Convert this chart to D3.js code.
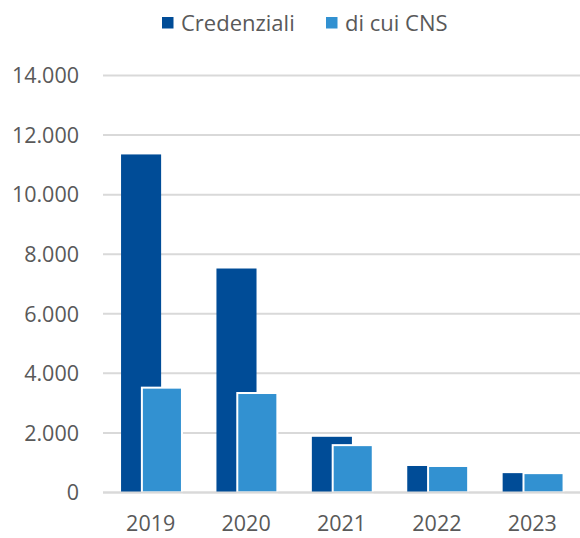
<!DOCTYPE html>
<html>
<head>
<meta charset="utf-8">
<script src="https://cdn.jsdelivr.net/npm/d3@7"></script>
<style>
  html, body { margin: 0; padding: 0; background: #fff; }
  #chart { width: 580px; height: 538px; }
  #chart text { font-family: 'Open Sans', 'Noto Sans', sans-serif; fill: #595959; }
  #chart .grid line { stroke: #d9d9d9; stroke-width: 2px; }
</style>
</head>
<body>
<div id="chart"></div>
<script>
// data
const years = ["2019", "2020", "2021", "2022", "2023"];
const credenziali = [11350, 7520, 1870, 890, 650];
const diCuiCns = [3520, 3340, 1590, 890, 650];
const yTicks = [0, 2000, 4000, 6000, 8000, 10000, 12000, 14000];
const seriesNames = ["Credenziali", "di cui CNS"];
const colors = ["#004c97", "#3291d1"];

const W = 580, H = 538;
const plot = { left: 103, right: 580, top: 75.5, bottom: 492.5 };

const svg = d3.select("#chart").append("svg")
  .attr("width", W).attr("height", H);

const x = d3.scaleBand().domain(years).range([plot.left, plot.right]);
const y = d3.scaleLinear().domain([0, 14000]).range([plot.bottom, plot.top]);

const fmt = d => d3.format(",")(d).replace(/,/g, ".");

// gridlines + y labels
const grid = svg.append("g").attr("class", "grid");
grid.selectAll("line").data(yTicks).join("line")
  .attr("x1", plot.left).attr("x2", plot.right)
  .attr("y1", d => y(d)).attr("y2", d => y(d));

svg.append("g").selectAll("text").data(yTicks).join("text")
  .attr("x", 79).attr("y", d => y(d))
  .attr("dy", "0.36em")
  .attr("text-anchor", "end")
  .style("font-size", "21.5px")
  .text(fmt);

// bars: ~40px wide, light one overlapping half of the dark one
const bw = x.bandwidth() * 0.42;
const cx = d => x(d) + x.bandwidth() / 2;

svg.append("g").selectAll("rect").data(years).join("rect")
  .attr("x", (d) => cx(d) - bw * 0.74)
  .attr("y", (d, i) => y(credenziali[i]))
  .attr("width", bw)
  .attr("height", (d, i) => y(0) - y(credenziali[i]))
  .attr("fill", colors[0]);

svg.append("g").selectAll("rect").data(years).join("rect")
  .attr("x", (d) => cx(d) - bw * 0.22)
  .attr("y", (d, i) => y(diCuiCns[i]))
  .attr("width", bw)
  .attr("height", (d, i) => y(0) - y(diCuiCns[i]))
  .attr("fill", colors[1])
  .attr("stroke", "#fff")
  .attr("stroke-width", 2);

// redraw baseline on top of the bar strokes
svg.append("line")
  .attr("x1", plot.left).attr("x2", plot.right)
  .attr("y1", y(0)).attr("y2", y(0))
  .attr("stroke", "#d9d9d9").attr("stroke-width", 2);

// x labels (kept just inside the bottom edge)
svg.append("g").selectAll("text").data(years).join("text")
  .attr("x", cx)
  .attr("y", 531)
  .style("font-size", "21.5px")
  .attr("text-anchor", "middle")
  .text(d => d);

// legend
const legendX = [162, 326];
const legend = svg.append("g").selectAll("g").data(seriesNames).join("g")
  .attr("transform", (d, i) => `translate(${legendX[i]},17)`);
legend.append("rect")
  .attr("width", 11.5).attr("height", 11.5)
  .attr("fill", (d, i) => colors[i]);
legend.append("text")
  .attr("x", 19).attr("y", 6)
  .attr("dy", "0.36em")
  .style("font-size", "22px")
  .text(d => d);
</script>
</body>
</html>
